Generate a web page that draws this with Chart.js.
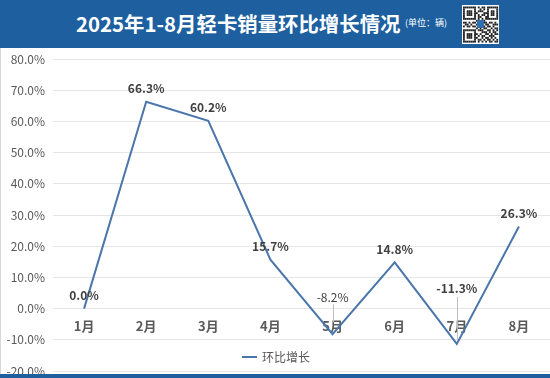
<!DOCTYPE html>
<html>
<head>
<meta charset="utf-8">
<script src="https://cdn.jsdelivr.net/npm/chart.js@4/dist/chart.umd.min.js"></script>
<style>
  html, body { margin: 0; padding: 0; background: #fff; }
  #wrap { position: relative; width: 550px; height: 378px; overflow: hidden; font-family: "Noto Sans CJK SC", "Noto Sans", sans-serif; }
  #title { position: absolute; left: 0; top: 0; width: 550px; height: 48px; background: #1d5f9f; }
  #title .main { position: absolute; left: 76px; top: 9px; color: #fff; font-weight: bold; font-size: 20.4px; line-height: 28px; white-space: nowrap; }
  #title .unit { position: absolute; left: 405px; top: 17px; color: #fff; font-size: 9px; line-height: 12px; white-space: nowrap; }
  #qr { position: absolute; left: 462px; top: 5px; }
  #chartBox { position: absolute; left: 0; top: 48px; width: 549px; height: 326px; border-left: 1px solid #d9d9d9; }
  #bottomBar { position: absolute; left: 0; top: 374px; width: 550px; height: 4px; background: #1d5f9f; }
</style>
</head>
<body>
<div id="wrap">
  <div id="title">
    <span class="main">2025年1-8月轻卡销量环比增长情况</span>
    <span class="unit">(单位：辆)</span>
    <canvas id="qr" width="37" height="39"></canvas>
  </div>
  <div id="chartBox"><canvas id="c" width="549" height="326"></canvas></div>
  <div id="bottomBar"></div>
</div>
<script>
// ---- data ----
const categories = ["1月", "2月", "3月", "4月", "5月", "6月", "7月", "8月"];
const momGrowth = [0.0, 66.3, 60.2, 15.7, -8.2, 14.8, -11.3, 26.3];
const seriesName = "环比增长";
const yTicksMin = -20;
const yTicksMax = 80;
const yTickStep = 10;

// ---- decorative QR badge ----
(function () {
  const q = document.getElementById('qr').getContext('2d');
  q.fillStyle = '#fff'; q.fillRect(0, 0, 37, 39);
  q.fillStyle = '#222';
  const rows = [
    "1111111010110111111",
    "1000001001010100001",
    "1011101011100101101",
    "1011101100011101101",
    "1011101010110101101",
    "1000001011001100001",
    "1111111010101111111",
    "0000000110010000000",
    "1101011001111011010",
    "0110100111001100111",
    "1011011000110110100",
    "0000000101011001011",
    "1111111011100110101",
    "1000001000111010110",
    "1011101101001101011",
    "1011101010110011100",
    "1011101100101101010",
    "1000001011010110101",
    "1111111010101011011"
  ];
  for (let r = 0; r < rows.length; r++) {
    for (let c = 0; c < rows[r].length; c++) {
      if (rows[r][c] === '1') q.fillRect(1 + c * 1.85, 1.5 + r * 1.9, 1.85, 1.9);
    }
  }
  q.fillStyle = '#2f6fb0'; q.fillRect(15, 15, 7, 8);
})();

const FONT = '"Noto Sans CJK SC", "Noto Sans", sans-serif';
const LINE_COLOR = '#4a76ab';

// label placement styles (not data)
const labelStyle = {
  defaultOffset: 13,
  leader: { 4: { offset: 37, from: 30, to: 12 }, 6: { offset: 55, from: 47, to: 4 } },
  normalWeight: { 4: true }
};

const dataLabels = {
  id: 'dataLabels',
  afterDatasetsDraw(chart) {
    const ctx = chart.ctx;
    const meta = chart.getDatasetMeta(0);
    const vals = chart.data.datasets[0].data;
    ctx.save();
    ctx.textAlign = 'center';
    ctx.textBaseline = 'middle';
    meta.data.forEach((pt, i) => {
      const v = vals[i];
      const lead = labelStyle.leader[i];
      const off = lead ? lead.offset : labelStyle.defaultOffset;
      if (lead) {
        ctx.strokeStyle = '#bfbfbf';
        ctx.lineWidth = 1;
        ctx.beginPath();
        ctx.moveTo(Math.round(pt.x) + 0.5, pt.y - lead.from);
        ctx.lineTo(Math.round(pt.x) + 0.5, pt.y - lead.to);
        ctx.stroke();
      }
      ctx.fillStyle = '#404040';
      ctx.font = (labelStyle.normalWeight[i] ? 'normal ' : 'bold ') + '12px ' + FONT;
      ctx.fillText(v.toFixed(1) + '%', pt.x, pt.y - off);
    });
    ctx.restore();
  }
};

const legendOverlay = {
  id: 'legendOverlay',
  afterDraw(chart) {
    const ctx = chart.ctx;
    const ds = chart.data.datasets[0];
    ctx.save();
    ctx.strokeStyle = ds.borderColor;
    ctx.lineWidth = 2;
    ctx.beginPath();
    ctx.moveTo(241, 309);
    ctx.lineTo(256, 309);
    ctx.stroke();
    ctx.fillStyle = '#595959';
    ctx.font = '12px ' + FONT;
    ctx.textAlign = 'left';
    ctx.textBaseline = 'middle';
    ctx.fillText(ds.label, 261, 309);
    ctx.restore();
  }
};

new Chart(document.getElementById('c'), {
  type: 'line',
  data: {
    labels: categories,
    datasets: [{
      label: seriesName,
      data: momGrowth,
      borderColor: LINE_COLOR,
      backgroundColor: LINE_COLOR,
      borderWidth: 2,
      pointRadius: 0,
      tension: 0,
      fill: false
    }]
  },
  options: {
    responsive: false,
    animation: false,
    devicePixelRatio: 1,
    layout: { padding: { top: 11, right: 0, bottom: 3, left: 0 } },
    plugins: { legend: { display: false }, tooltip: { enabled: false }, title: { display: false } },
    scales: {
      x: {
        type: 'category',
        position: { y: 0 },
        offset: true,
        grid: { display: false, drawTicks: false },
        border: { display: false },
        ticks: { color: '#595959', font: { family: FONT, size: 13, weight: 'bold' }, padding: 10, maxRotation: 0 }
      },
      y: {
        min: yTicksMin,
        max: yTicksMax,
        grid: { color: '#e6e6e6', lineWidth: 1, drawTicks: false },
        border: { display: false },
        ticks: {
          stepSize: yTickStep,
          color: '#595959',
          font: { family: FONT, size: 12 },
          padding: 8,
          callback: v => v.toFixed(1) + '%'
        },
        afterFit(s) { s.width = 52; s.paddingTop = 0; s.paddingBottom = 0; }
      }
    }
  },
  plugins: [dataLabels, legendOverlay]
});
</script>
</body>
</html>
